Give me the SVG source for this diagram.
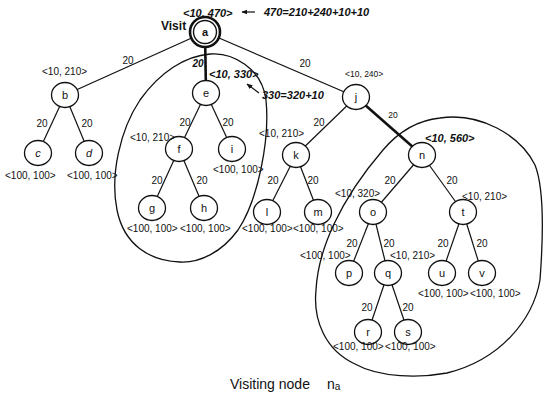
<svg xmlns="http://www.w3.org/2000/svg" width="543" height="397" viewBox="0 0 543 397">
<defs>
<marker id="ah" viewBox="0 0 10 10" refX="9" refY="5" markerWidth="6" markerHeight="6" orient="auto" markerUnits="userSpaceOnUse">
<path d="M0,1 L10,5 L0,9 Z" fill="#111"/>
</marker>
<style>
text{font-family:"Liberation Sans",Arial,Helvetica,sans-serif;fill:#111}
.n{fill:#fff;stroke:#111;stroke-width:1.3}
.e{stroke:#111;stroke-width:1.2;fill:none}
.tk{stroke-width:2.6}
.cv{stroke:#111;stroke-width:1.3;fill:none}
.lb{font-size:10px}
.w{font-size:10px;text-anchor:middle}
.bi{font-size:11px;font-weight:bold;font-style:italic}
.nl{font-size:11px;text-anchor:middle}
</style>
</defs>
<rect width="543" height="397" fill="#fff"/>

<g id="connectors">
<line class="e" x1="205" y1="32" x2="65" y2="95"/>
<line class="e tk" x1="205" y1="32" x2="206" y2="93"/>
<line class="e" x1="205" y1="32" x2="356" y2="97"/>
<line class="e" x1="65" y1="95" x2="38" y2="153"/>
<line class="e" x1="65" y1="95" x2="89" y2="153"/>
<line class="e" x1="206" y1="93" x2="179" y2="149"/>
<line class="e" x1="206" y1="93" x2="232" y2="149"/>
<line class="e" x1="179" y1="149" x2="152" y2="208"/>
<line class="e" x1="179" y1="149" x2="204" y2="208"/>
<line class="e" x1="356" y1="97" x2="296" y2="155"/>
<line class="e tk" x1="356" y1="97" x2="422" y2="155"/>
<line class="e" x1="296" y1="155" x2="267" y2="212"/>
<line class="e" x1="296" y1="155" x2="318" y2="212"/>
<line class="e" x1="422" y1="155" x2="373" y2="212"/>
<line class="e" x1="422" y1="155" x2="463" y2="212"/>
<line class="e" x1="373" y1="212" x2="349" y2="273"/>
<line class="e" x1="373" y1="212" x2="388" y2="273"/>
<line class="e" x1="463" y1="212" x2="442" y2="273"/>
<line class="e" x1="463" y1="212" x2="482" y2="273"/>
<line class="e" x1="388" y1="273" x2="368" y2="332"/>
<line class="e" x1="388" y1="273" x2="408" y2="332"/>
<line class="e" x1="255" y1="12" x2="242" y2="12" marker-end="url(#ah)"/>
<line class="e" x1="259" y1="93" x2="247" y2="84" marker-end="url(#ah)"/>
</g>

<g id="regions">
<path class="cv" d="M210,54 C232,52 262,68 266,100 C270,140 258,200 238,230 C222,252 200,263 180,262 C150,261 124,245 117,210 C110,175 120,130 140,100 C160,72 185,56 210,54 Z"/>
<path class="cv" d="M440,118 C480,112 520,135 535,165 C545,190 543,240 540,280 C533,320 500,360 447,373 C420,378 380,378 355,364 C325,350 313,320 316,290 C318,250 340,200 383,150 C400,130 420,120 440,118 Z"/>
</g>

<g id="node-a"><circle cx="205" cy="32" r="15" fill="#fff" stroke="#111" stroke-width="2.6"/><circle cx="205" cy="32" r="11.5" fill="none" stroke="#111" stroke-width="1.4"/><text class="nl" x="205" y="36" font-weight="bold">a</text></g>
<g id="node-b"><ellipse class="n" cx="65" cy="95" rx="13.5" ry="12.5"/><text class="nl" x="65" y="99">b</text></g>
<g id="node-c"><ellipse class="n" cx="38" cy="153" rx="13.5" ry="12.5"/><text class="nl" x="38" y="157" font-style="italic">c</text></g>
<g id="node-d"><ellipse class="n" cx="89" cy="153" rx="13.5" ry="12.5"/><text class="nl" x="89" y="157" font-style="italic">d</text></g>
<g id="node-e"><ellipse class="n" cx="206" cy="93" rx="13.5" ry="12.5"/><text class="nl" x="206" y="97">e</text></g>
<g id="node-f"><ellipse class="n" cx="179" cy="149" rx="13.5" ry="12.5"/><text class="nl" x="179" y="153">f</text></g>
<g id="node-i"><ellipse class="n" cx="232" cy="149" rx="13.5" ry="12.5"/><text class="nl" x="232" y="153">i</text></g>
<g id="node-g"><ellipse class="n" cx="152" cy="208" rx="13.5" ry="12.5"/><text class="nl" x="152" y="212">g</text></g>
<g id="node-h"><ellipse class="n" cx="204" cy="208" rx="13.5" ry="12.5"/><text class="nl" x="204" y="212">h</text></g>
<g id="node-j"><ellipse class="n" cx="356" cy="97" rx="13.5" ry="12.5"/><text class="nl" x="356" y="101">j</text></g>
<g id="node-k"><ellipse class="n" cx="296" cy="155" rx="13.5" ry="12.5"/><text class="nl" x="296" y="159">k</text></g>
<g id="node-l"><ellipse class="n" cx="267" cy="212" rx="13.5" ry="12.5"/><text class="nl" x="267" y="216">l</text></g>
<g id="node-m"><ellipse class="n" cx="318" cy="212" rx="13.5" ry="12.5"/><text class="nl" x="318" y="216">m</text></g>
<g id="node-n"><ellipse class="n" cx="422" cy="155" rx="13.5" ry="12.5"/><text class="nl" x="422" y="159">n</text></g>
<g id="node-o"><ellipse class="n" cx="373" cy="212" rx="13.5" ry="12.5"/><text class="nl" x="373" y="216">o</text></g>
<g id="node-t"><ellipse class="n" cx="463" cy="212" rx="13.5" ry="12.5"/><text class="nl" x="463" y="216">t</text></g>
<g id="node-p"><ellipse class="n" cx="349" cy="273" rx="13.5" ry="12.5"/><text class="nl" x="349" y="277">p</text></g>
<g id="node-q"><ellipse class="n" cx="388" cy="273" rx="13.5" ry="12.5"/><text class="nl" x="388" y="277">q</text></g>
<g id="node-u"><ellipse class="n" cx="442" cy="273" rx="13.5" ry="12.5"/><text class="nl" x="442" y="277">u</text></g>
<g id="node-v"><ellipse class="n" cx="482" cy="273" rx="13.5" ry="12.5"/><text class="nl" x="482" y="277">v</text></g>
<g id="node-r"><ellipse class="n" cx="368" cy="332" rx="13.5" ry="12.5"/><text class="nl" x="368" y="336">r</text></g>
<g id="node-s"><ellipse class="n" cx="408" cy="332" rx="13.5" ry="12.5"/><text class="nl" x="408" y="336">s</text></g>

<g id="labels">
<text class="bi" x="183" y="17">&lt;10, 470&gt;</text>
<text class="bi" x="264" y="16">470=210+240+10+10</text>
<text x="161" y="30" font-size="12" font-weight="bold">Visit</text>
<text class="w" x="128" y="64">20</text>
<text class="lb" x="42" y="75">&lt;10, 210&gt;</text>
<text class="w" x="198" y="67" font-weight="bold" font-style="italic">20</text>
<text class="bi" x="209" y="78">&lt;10, 330&gt;</text>
<text class="bi" x="262" y="99">330=320+10</text>
<text class="w" x="305" y="67">20</text>
<text x="345" y="77" font-size="8.5">&lt;10, 240&gt;</text>
<text class="w" x="42" y="127">20</text>
<text class="w" x="87" y="127">20</text>
<text class="lb" x="5" y="179">&lt;100, 100&gt;</text>
<text class="lb" x="67" y="179">&lt;100, 100&gt;</text>
<text class="lb" x="130" y="141">&lt;10, 210&gt;</text>
<text class="w" x="185" y="126">20</text>
<text class="w" x="228" y="126">20</text>
<text class="lb" x="213" y="173">&lt;100, 100&gt;</text>
<text class="w" x="157" y="184">20</text>
<text class="w" x="202" y="184">20</text>
<text class="lb" x="127" y="232">&lt;100, 100&gt;</text>
<text class="lb" x="180" y="232">&lt;100, 100&gt;</text>
<text class="w" x="319" y="126">20</text>
<text x="393" y="118" font-size="8.5" text-anchor="middle">20</text>
<text class="lb" x="259" y="137">&lt;10, 210&gt;</text>
<text class="bi" x="425" y="142">&lt;10, 560&gt;</text>
<text class="w" x="273" y="184">20</text>
<text class="w" x="313" y="184">20</text>
<text class="lb" x="242" y="232">&lt;100, 100&gt;</text>
<text class="lb" x="293" y="232">&lt;100, 100&gt;</text>
<text class="w" x="390" y="184">20</text>
<text class="w" x="452" y="184">20</text>
<text class="lb" x="335" y="197">&lt;10, 320&gt;</text>
<text class="lb" x="462" y="200">&lt;10, 210&gt;</text>
<text class="w" x="352" y="247">20</text>
<text class="w" x="389" y="247">20</text>
<text class="w" x="443" y="247">20</text>
<text class="w" x="482" y="247">20</text>
<text class="lb" x="300" y="259">&lt;100, 100&gt;</text>
<text class="lb" x="390" y="259">&lt;10, 210&gt;</text>
<text class="lb" x="418" y="297">&lt;100, 100&gt;</text>
<text class="lb" x="470" y="297">&lt;100, 100&gt;</text>
<text class="w" x="367" y="311">20</text>
<text class="w" x="408" y="311">20</text>
<text class="lb" x="333" y="350">&lt;100, 100&gt;</text>
<text class="lb" x="385" y="350">&lt;100, 100&gt;</text>
<text x="230" y="389" font-size="14">Visiting node <tspan x="327">n</tspan><tspan font-size="10" dy="1">a</tspan></text>
</g>
</svg>
